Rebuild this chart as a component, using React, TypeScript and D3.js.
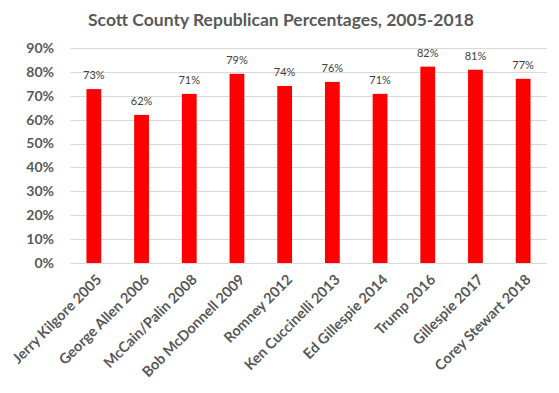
import React, { useEffect, useRef } from 'react';
import * as d3 from 'd3';

const candidates = [
  'Jerry Kilgore 2005',
  'George Allen 2006',
  'McCain/Palin 2008',
  'Bob McDonnell 2009',
  'Romney 2012',
  'Ken Cuccinelli 2013',
  'Ed Gillespie 2014',
  'Trump 2016',
  'Gillespie 2017',
  'Corey Stewart 2018',
];
const percents = [72.8, 62, 70.8, 79.2, 74.1, 75.8, 70.8, 82.2, 80.9, 77.1];
const yTicks = [0, 10, 20, 30, 40, 50, 60, 70, 80, 90];

export default function App() {
  const svgRef = useRef<SVGSVGElement>(null);

  useEffect(() => {
    if (!svgRef.current) return;
    const width = 559;
    const height = 393;
    const margin = { top: 48, right: 12, bottom: 130, left: 70 };

    const svg = d3.select(svgRef.current);
    svg.selectAll('*').remove();

    const font = 'Lato, "Open Sans", sans-serif';

    svg.append('rect').attr('width', width).attr('height', height).attr('fill', '#fff');

    svg.append('text')
      .attr('x', 281)
      .attr('y', 26)
      .attr('text-anchor', 'middle')
      .attr('font-family', font)
      .attr('font-size', '17.5px')
      .attr('font-weight', 'bold')
      .attr('fill', '#595959')
      .text('Scott County Republican Percentages, 2005-2018');

    const x = d3.scaleBand()
      .domain(candidates)
      .range([margin.left, width - margin.right])
      .paddingInner(0.69)
      .paddingOuter(0.345);

    const y = d3.scaleLinear()
      .domain([0, 90])
      .range([263, margin.top]);

    // gridlines
    svg.append('g')
      .selectAll('line')
      .data(yTicks)
      .join('line')
      .attr('x1', margin.left)
      .attr('x2', width - margin.right)
      .attr('y1', d => Math.round(y(d)) + 0.5)
      .attr('y2', d => Math.round(y(d)) + 0.5)
      .attr('stroke', '#d9d9d9')
      .attr('stroke-width', 1);

    // y labels
    svg.append('g')
      .selectAll('text')
      .data(yTicks)
      .join('text')
      .attr('x', 54)
      .attr('y', d => y(d))
      .attr('dy', '0.35em')
      .attr('text-anchor', 'end')
      .attr('font-family', font)
      .attr('font-size', '14px')
      .attr('font-weight', 'bold')
      .attr('fill', '#595959')
      .text(d => `${d}%`);

    // bars
    svg.append('g')
      .selectAll('rect')
      .data(percents)
      .join('rect')
      .attr('x', (d, i) => x(candidates[i])!)
      .attr('width', x.bandwidth())
      .attr('y', d => y(d))
      .attr('height', d => y(0) - y(d))
      .attr('fill', '#ff0000');

    // value labels
    svg.append('g')
      .selectAll('text')
      .data(percents)
      .join('text')
      .attr('x', (d, i) => x(candidates[i])! + x.bandwidth() / 2)
      .attr('y', d => y(d) - 10)
      .attr('text-anchor', 'middle')
      .attr('font-family', font)
      .attr('font-size', '11px')
      .attr('fill', '#404040')
      .text(d => `${Math.round(d)}%`);

    // x labels
    svg.append('g')
      .selectAll('text')
      .data(candidates)
      .join('text')
      .attr('transform', d => `translate(${x(d)! + x.bandwidth() / 2 + 5},${y(0) + 14}) rotate(-45)`)
      .attr('text-anchor', 'end')
      .attr('dy', '0.35em')
      .attr('font-family', font)
      .attr('font-size', '14.5px')
      .attr('font-weight', 'bold')
      .attr('fill', '#595959')
      .text(d => d);
  }, []);

  return (
    <div style={{ position: 'fixed', left: 0, top: 0, width: 559, height: 393 }}>
      <svg ref={svgRef} width={559} height={393} style={{ display: 'block' }}></svg>
    </div>
  );
}
